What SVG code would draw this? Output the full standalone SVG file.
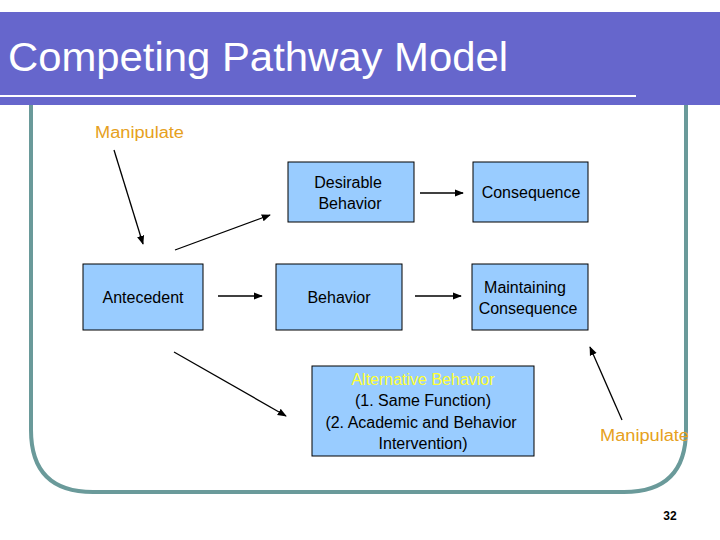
<svg xmlns="http://www.w3.org/2000/svg" width="720" height="540" viewBox="0 0 720 540">
<defs>
<marker id="ah" viewBox="0 0 10 10" refX="9" refY="5" markerWidth="7" markerHeight="7" orient="auto"><path d="M0,1 L10,5 L0,9 z" fill="#000"/></marker>
<style>
.box{fill:#99ccff;stroke:#000;stroke-width:1}
.t{font-family:"Liberation Sans",Arial,sans-serif;font-size:16px;fill:#000;text-anchor:middle}
.m{font-family:"Liberation Sans",Arial,sans-serif;font-size:16px;fill:#e6a020}
.c line{stroke:#000;stroke-width:1.3;marker-end:url(#ah)}
</style>
</defs>
<rect width="720" height="540" fill="#fff"/>
<path d="M31,100 V430 Q31,492 93,492 H624 Q686,492 686,430 V100" fill="none" stroke="#6a9a9a" stroke-width="4"/>
<rect x="0" y="12" width="720" height="93" fill="#6666cc"/>
<line x1="0" y1="96" x2="636" y2="96" stroke="#fff" stroke-width="2"/>
<text x="8" y="71" font-family="'Liberation Sans',Arial,sans-serif" font-size="40" fill="#fff" textLength="500" lengthAdjust="spacingAndGlyphs">Competing Pathway Model</text>
<text class="m" x="95" y="138" textLength="89" lengthAdjust="spacingAndGlyphs">Manipulate</text>
<text class="m" x="600" y="441" textLength="89" lengthAdjust="spacingAndGlyphs">Manipulate</text>
<g id="desirable"><rect class="box" x="288" y="162" width="126" height="60"/><text class="t" x="348" y="188">Desirable</text><text class="t" x="350" y="209">Behavior</text></g>
<g id="consequence"><rect class="box" x="473" y="162" width="115" height="60"/><text class="t" x="531" y="198">Consequence</text></g>
<g id="antecedent"><rect class="box" x="83" y="264" width="120" height="66"/><text class="t" x="143" y="303">Antecedent</text></g>
<g id="behavior"><rect class="box" x="276" y="264" width="126" height="66"/><text class="t" x="339" y="303">Behavior</text></g>
<g id="maintaining"><rect class="box" x="472" y="264" width="116" height="66"/><text class="t" x="525" y="293">Maintaining</text><text class="t" x="528" y="314">Consequence</text></g>
<g id="alternative"><rect class="box" x="312" y="366" width="222" height="90"/><text class="t" x="423" y="385" style="fill:#ffff33">Alternative Behavior</text><text class="t" x="423" y="406">(1. Same Function)</text><text class="t" x="421" y="428">(2. Academic and Behavior</text><text class="t" x="423" y="449">Intervention)</text></g>
<g id="connectors" class="c">
<line x1="114" y1="150" x2="143" y2="244"/>
<line x1="175" y1="250" x2="270" y2="215"/>
<line x1="218" y1="296" x2="262" y2="296"/>
<line x1="415" y1="296" x2="461" y2="296"/>
<line x1="420" y1="193" x2="463" y2="193"/>
<line x1="174" y1="352" x2="286" y2="416"/>
<line x1="622" y1="420" x2="590" y2="347"/>
</g>
<text x="670" y="520" font-family="'Liberation Sans',Arial,sans-serif" font-size="12" font-weight="bold" text-anchor="middle">32</text>
</svg>
